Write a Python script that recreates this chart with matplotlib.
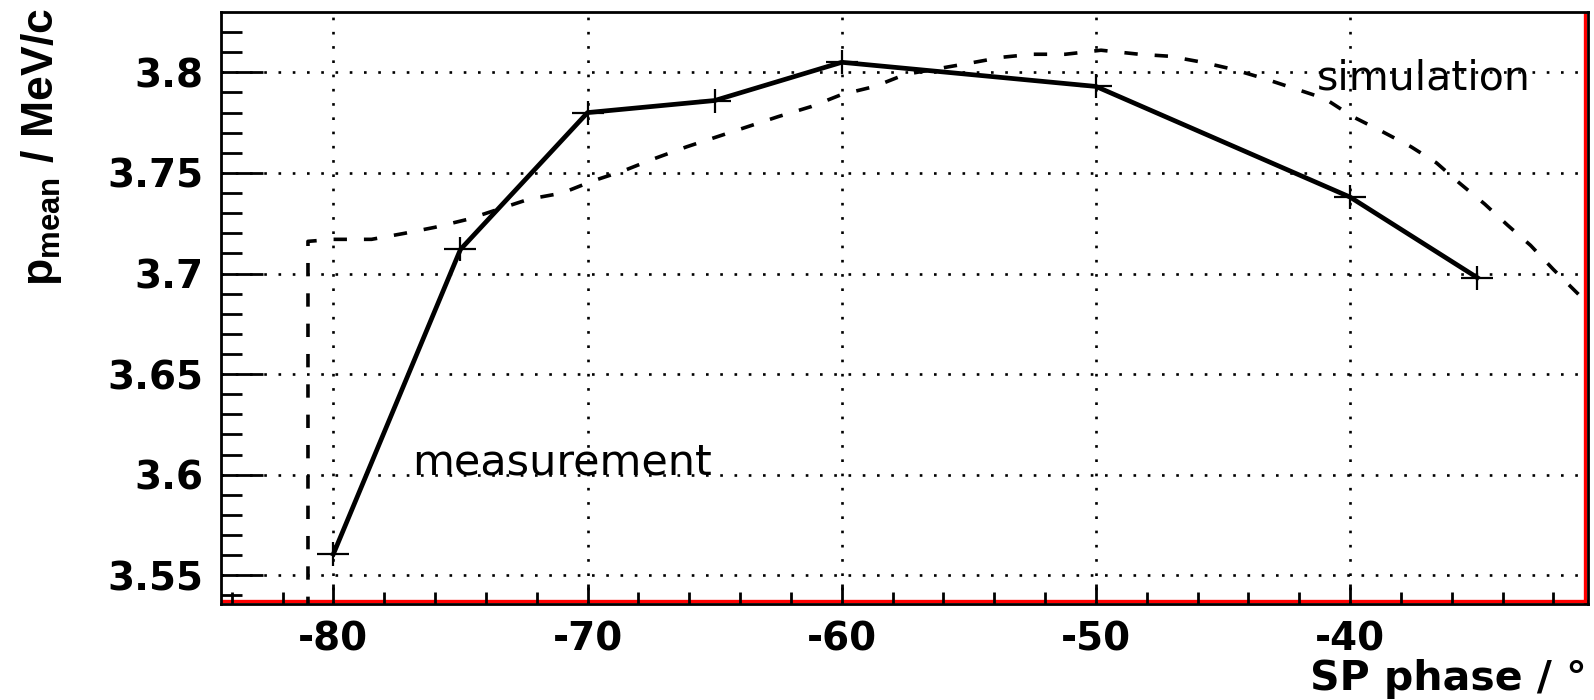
import matplotlib
matplotlib.use('Agg')
import matplotlib.pyplot as plt
from matplotlib.path import Path
from matplotlib.lines import Line2D
from matplotlib.transforms import ScaledTranslation
from matplotlib.ticker import FixedLocator, MultipleLocator

plt.rcParams['axes.unicode_minus'] = False
plt.rcParams['mathtext.fontset'] = 'custom'
plt.rcParams['mathtext.rm'] = 'Liberation Sans:bold'
plt.rcParams['mathtext.it'] = 'Liberation Sans:bold'
plt.rcParams['mathtext.bf'] = 'Liberation Sans:bold'

# ---- data ----
meas_phase = [-80, -75, -70, -65, -60, -50, -40, -35]
meas_p = [3.5606, 3.712, 3.780, 3.786, 3.805, 3.793, 3.738, 3.698]

sim_phase = [-81.0, -81.0, -80.0, -78.5, -77.2, -76.0, -74.7, -72.3, -71.0, -69.8,
             -68.6, -67.4, -66.1, -64.9, -63.7, -62.5, -61.2, -60.0, -58.7, -57.5,
             -55.0, -53.7, -52.5, -51.2, -49.8, -48.3, -47.1, -45.8, -44.6, -43.4,
             -42.2, -41.0, -39.9, -38.8, -37.6, -36.6, -35.7, -34.7, -33.8, -32.9,
             -32.0, -31.2, -30.4]
sim_p = [3.45, 3.716, 3.717, 3.717, 3.720, 3.723, 3.727, 3.737, 3.740, 3.746,
         3.751, 3.757, 3.763, 3.768, 3.773, 3.778, 3.783, 3.789, 3.793, 3.799,
         3.8045, 3.8075, 3.809, 3.809, 3.811, 3.809, 3.808, 3.805, 3.8015, 3.797,
         3.792, 3.787, 3.778, 3.771, 3.763, 3.755, 3.745, 3.7345, 3.724, 3.714,
         3.702, 3.692, 3.682]

x_major = [-80, -70, -60, -50, -40]
x_labels = ['-80', '-70', '-60', '-50', '-40']
y_major = [3.55, 3.6, 3.65, 3.7, 3.75, 3.8]
y_labels = ['3.55', '3.6', '3.65', '3.7', '3.75', '3.8']

x_label = 'SP phase / \u00b0'
y_label = r'$\mathrm{p_{mean}\ /\ MeV/c}$'
meas_text = 'measurement'
sim_text = 'simulation'

# ---- figure ----
W, H = 1594, 700
fig = plt.figure(figsize=(W / 100, H / 100), dpi=100)
left, right, top, bottom = 221.3, 1588.0, 12.2, 603.7
ax = fig.add_axes([left / W, (H - bottom) / H, (right - left) / W, (bottom - top) / H])
ax.set_xlim(-84.41, -30.64)
ax.set_ylim(3.5359, 3.8299)
ax.set_axisbelow(False)

ax.xaxis.set_major_locator(FixedLocator(x_major))
ax.xaxis.set_minor_locator(MultipleLocator(2))
ax.yaxis.set_major_locator(FixedLocator(y_major))
ax.yaxis.set_minor_locator(MultipleLocator(0.01))
ax.set_xticklabels(x_labels, fontsize=28, fontweight='bold', family='DejaVu Sans')
ax.set_yticklabels(y_labels, fontsize=28, fontweight='bold', family='DejaVu Sans')

ax.tick_params(axis='y', which='major', direction='in', length=30.5, width=2.0, pad=13, color='black')
ax.tick_params(axis='y', which='minor', direction='in', length=15, width=2.0)
ax.tick_params(axis='x', which='major', direction='in', length=14.4, width=2.0, pad=12)
ax.tick_params(axis='x', which='minor', direction='in', length=8.4, width=2.0)

ax.grid(True, which='major', color='black', linestyle=(0, (1, 4.4)), linewidth=1.9)

for sp in ax.spines.values():
    sp.set_linewidth(2.0)
    sp.set_color('black')
    sp.set_zorder(2.6)

# red inner frame lines (bottom and right)
off_b = ScaledTranslation(0, 0.028, fig.dpi_scale_trans)
off_r = ScaledTranslation(-0.028, 0, fig.dpi_scale_trans)
ax.add_line(Line2D([0, 1], [0, 0], transform=ax.transAxes + off_b, color='red',
                   lw=2.4, zorder=2.4, clip_on=False, solid_capstyle='butt'))
ax.add_line(Line2D([1, 1], [0, 1], transform=ax.transAxes + off_r, color='red',
                   lw=2.4, zorder=2.4, clip_on=False, solid_capstyle='butt'))

# plus marker, wider than tall
plus = Path([(-1, 0), (1, 0), (0, -0.78), (0, 0.78)],
            [Path.MOVETO, Path.LINETO, Path.MOVETO, Path.LINETO])

ax.plot(sim_phase, sim_p, color='black', lw=2.6, linestyle=(0, (3.7, 4.7)), zorder=3)
ax.plot(meas_phase, meas_p, color='black', lw=3.4, zorder=3.1,
        marker=plus, markersize=23, markeredgewidth=1.6)

ax.text(-76.9, 3.6, meas_text, fontsize=31, va='baseline', ha='left',
        family='DejaVu Sans', zorder=4)
ax.text(-41.3, 3.7915, sim_text, fontsize=29.5, va='baseline', ha='left',
        family='DejaVu Sans', zorder=4)

fig.text(1587 / W, (H - 690) / H, x_label, ha='right', va='baseline',
         fontsize=29.5, fontweight='bold', family='DejaVu Sans')
fig.text(53 / W, 1 - 8 / H, y_label, rotation=90, rotation_mode='anchor',
         ha='right', va='baseline', fontsize=32)

fig.savefig('out.png', dpi=100)
